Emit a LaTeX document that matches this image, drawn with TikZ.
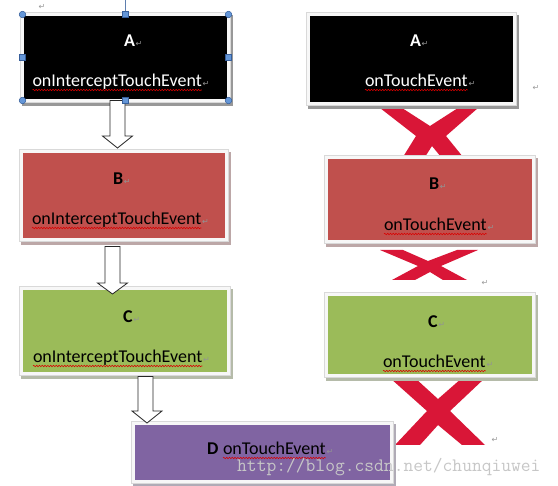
\documentclass[tikz,border=0pt]{standalone}
\usepackage{fontspec}
\setmainfont{Carlito}
\newfontfamily\dejavu{DejaVu Sans}
\usetikzlibrary{calc,decorations.pathmorphing}
\definecolor{bred}{RGB}{192,80,77}
\definecolor{cgreen}{RGB}{155,187,89}
\definecolor{dpurple}{RGB}{128,100,162}
\definecolor{xred}{RGB}{217,22,55}
\definecolor{hblue}{RGB}{100,150,215}
\definecolor{hbord}{RGB}{55,95,155}
\newcommand\retmark{{\dejavu\fontsize{8}{8}\selectfont ↵}}
\begin{document}
\begin{tikzpicture}[x=1pt,y=-1pt,
  fbox/.style={rectangle, inner sep=0pt, outer sep=0pt, fill=#1, draw=white!94!gray, line width=3pt,
    preaction={draw=#1!30!gray!62, fill=#1!30!gray!62, line width=4.6pt, transform canvas={xshift=1.8pt,yshift=-3pt}},
    preaction={draw=gray!30, line width=4.6pt}},
  txt/.style={inner sep=0pt, outer sep=0pt, anchor=base west, font=\fontsize{18}{20}\selectfont},
  ltr/.style={inner sep=0pt, outer sep=0pt, anchor=base west, font=\fontsize{18}{20}\selectfont\bfseries},
  rm/.style={inner sep=0pt, outer sep=0pt, anchor=base west, text=gray!85, xshift=0.8pt},
  lrm/.style={inner sep=0pt, text=gray!80},
  wave/.style={draw=red!85!black, line width=0.55pt, decorate, decoration={snake, amplitude=0.7pt, segment length=2.8pt}},
  hollow/.style={draw=black!85, fill=white, line width=0.8pt, line join=miter},
  xmark/.style={fill=xred},
  hline/.style={draw=hbord!80, line width=0.8pt},
  hcirc/.style={fill=hblue, draw=hbord, line width=0.5pt},
  wmark/.style={inner sep=0pt, anchor=base west, text=black!22, font=\ttfamily\fontsize{19}{20}\selectfont}
]
\useasboundingbox (0,0) rectangle (558,486);
\fill[white] (0,0) rectangle (558,486);

% red crosses (behind boxes)
\fill[xmark] (380,108) -- (402,108) -- (430,126) -- (458,108) -- (478,108) -- (446,136) -- (463,157) -- (441,157) -- (432,146) -- (425,157) -- (403,157) -- (416,136) -- cycle;
\fill[xmark] (380,250) -- (403,250) -- (428,261) -- (457,250) -- (478,250) -- (441,266) -- (467,280) -- (443,280) -- (430,272) -- (415,280) -- (392,280) -- (418,266) -- cycle;
\fill[xmark] (390,378) -- (415,378) -- (438,399) -- (462,378) -- (485,378) -- (450,411) -- (485,445) -- (462,445) -- (438,425) -- (420,445) -- (395,445) -- (427,411) -- cycle;

% boxes
\node[fbox=black,   minimum width=206pt, minimum height=86pt] (A)  at (125.5,57.5) {};
\node[fbox=black,   minimum width=206pt, minimum height=89pt] (Ar) at (411.5,59) {};
\node[fbox=bred,    minimum width=205pt, minimum height=88pt] (B)  at (124,195.5) {};
\node[fbox=bred,    minimum width=207pt, minimum height=84pt] (Br) at (430,199.5) {};
\node[fbox=cgreen,  minimum width=207pt, minimum height=85pt] (C)  at (125,331) {};
\node[fbox=cgreen,  minimum width=207pt, minimum height=81pt] (Cr) at (430,335) {};
\node[fbox=dpurple, minimum width=258pt, minimum height=58pt] (D)  at (262.5,452.5) {};

% hollow arrows
\draw[hollow] (A.south -| 110,0) -- (A.south -| 125,0) -- (125,136) -- (132.5,136)
  -- ($(B.north -| 117.5,0)+(0,-3.5)$) -- (102.5,136) -- (110,136) -- cycle;
\draw[hollow] ($(B.south -| 105,0)+(0,7)$) -- ($(B.south -| 120,0)+(0,7)$) -- (120,283) -- (127.5,283)
  -- ($(C.north -| 112.5,0)+(0,5.5)$) -- (97.5,283) -- (105,283) -- cycle;
\draw[hollow] ($(C.south -| 138,0)+(0,3)$) -- ($(C.south -| 153,0)+(0,3)$) -- (153,411) -- (162,411)
  -- ($(D.north -| 147,0)+(0,-0.5)$) -- (132,411) -- (138,411) -- cycle;

% texts
\node[ltr, text=white] (tA1) at (124,47) {A};
\node[rm] (mA1) at (tA1.base east) {\retmark};
\node[txt, text=white] (tA2) at (32.5,87) {onInterceptTouchEvent};
\node[rm] (mA2) at (tA2.base east) {\retmark};
\node[ltr, text=white] (tAr1) at (410,47) {A};
\node[rm] (mAr1) at (tAr1.base east) {\retmark};
\node[txt, text=white] (tAr2) at (365,87) {onTouchEvent};
\node[rm] (mAr2) at (tAr2.base east) {\retmark};

\node[ltr] (tB1) at (113,185) {B};
\node[rm] (mB1) at (tB1.base east) {\retmark};
\node[txt] (tB2) at (32,225) {onInterceptTouchEvent};
\node[rm] (mB2) at (tB2.base east) {\retmark};
\node[ltr] (tBr1) at (429,190) {B};
\node[rm] (mBr1) at (tBr1.base east) {\retmark};
\node[txt] (tBr2) at (384,231) {onTouchEvent};
\node[rm] (mBr2) at (tBr2.base east) {\retmark};

\node[ltr] (tC1) at (123,323) {C};
\node[rm] (mC1) at (tC1.base east) {\retmark};
\node[txt] (tC2) at (33,363) {onInterceptTouchEvent};
\node[rm] (mC2) at (tC2.base east) {\retmark};
\node[ltr] (tCr1) at (428,328) {C};
\node[rm] (mCr1) at (tCr1.base east) {\retmark};
\node[txt] (tCr2) at (383,368) {onTouchEvent};
\node[rm] (mCr2) at (tCr2.base east) {\retmark};

\node[ltr] (tD1) at (207,455) {D};
\node[txt] (tD2) at (223,455) {onTouchEvent};
\node[rm] (mD2) at (tD2.base east) {\retmark};

% spell-check underlines
\foreach \t in {tA2,tAr2,tB2,tBr2,tC2,tCr2,tD2}
  \draw[wave] ($(\t.base west)+(0,3)$) -- ($(\t.base east)+(0,3)$);

% loose paragraph marks
\node[lrm] (m0) at (42,7) {\retmark};
\node[lrm] (m1) at (536,88) {\retmark};
\node[lrm] (m2) at (485,283) {\retmark};
\node[lrm] (m3) at (495,440) {\retmark};

% selection handles of box A
\coordinate (rot) at (125.5,0);
\draw[hline] (A.north) -- (rot);
\foreach \a in {north west, north east, south west, south east}
  \draw[hcirc] (A.\a) circle (3.3pt);
\foreach \a in {north, south, east, west}
  \draw[hcirc] ($(A.\a)+(-3,-3)$) rectangle ++(6,6);

% watermark
\node[wmark] (wm) at (237,472) {http://blog.csdn.net/chunqiuwei};
\end{tikzpicture}
\end{document}
